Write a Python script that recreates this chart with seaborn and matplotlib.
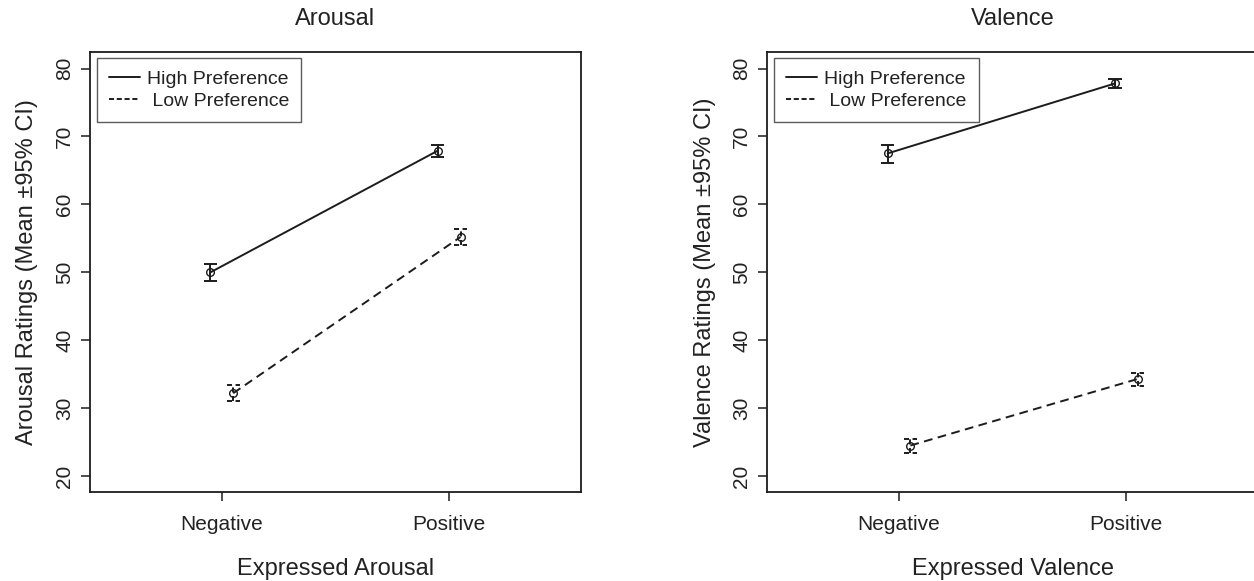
import matplotlib
matplotlib.use('Agg')
import matplotlib.pyplot as plt
from matplotlib.lines import Line2D
import numpy as np
import pandas as pd
import seaborn as sns

# values (mean and 95% CI bounds)
categories = ['Negative', 'Positive']
groups = ['High Preference', 'Low Preference']

arousal_high = [50.0, 67.9]
arousal_high_lo = [48.7, 67.0]
arousal_high_hi = [51.25, 68.8]
arousal_low = [32.2, 55.2]
arousal_low_lo = [31.0, 54.0]
arousal_low_hi = [33.4, 56.4]

valence_high = [67.5, 77.8]
valence_high_lo = [66.1, 77.2]
valence_high_hi = [68.8, 78.4]
valence_low = [24.5, 34.3]
valence_low_lo = [23.4, 33.3]
valence_low_hi = [25.45, 35.2]

yticks = [20, 30, 40, 50, 60, 70, 80]

sns.set_style('ticks')
plt.rcParams['font.family'] = ['Liberation Sans', 'DejaVu Sans']
ink = '#1c1c1c'
txt = '#222222'
dash = (0, (4.5, 2.8))
lw = 1.4
cap = 0.029


def make_df(high, low):
    return pd.DataFrame({'expr': categories * 2,
                         'pref': [groups[0]] * 2 + [groups[1]] * 2,
                         'rating': high + low})


def panel(ax, df, lows, highs, title, xlabel, ylabel):
    sns.pointplot(data=df, x='expr', y='rating', hue='pref', order=categories,
                  hue_order=groups, dodge=0.1, errorbar=None,
                  palette=[ink, ink], markers=['o', 'o'], linestyles=['-', dash],
                  linewidth=lw, markersize=5.5, markeredgewidth=1.0,
                  legend=False, ax=ax)
    styles = ['-', (0, (2.6, 1.8))]
    for line, lo, hi, ls in zip(ax.lines[:2], lows, highs, styles):
        line.set_markerfacecolor('none')
        line.set_zorder(3)
        x = np.asarray(line.get_xdata(), dtype=float)
        ax.vlines(x, lo, hi, colors=ink, linestyles=[ls], lw=lw)
        ax.hlines(lo, x - cap, x + cap, colors=ink, linestyles=[ls], lw=lw)
        ax.hlines(hi, x - cap, x + cap, colors=ink, linestyles=[ls], lw=lw)

    ax.set_xlim(-0.58, 1.58)
    ax.set_ylim(17.6, 82.4)
    ax.set_yticks(yticks)
    ax.set_title(title, fontsize=17, color=txt, pad=19.5)
    ax.set_xlabel(xlabel, fontsize=17, color=txt, labelpad=17)
    ax.set_ylabel(ylabel, fontsize=17, color=txt, labelpad=12)
    ax.tick_params(axis='both', direction='out', length=6.5, width=1.1,
                   color=ink, labelcolor=txt, labelsize=15)
    ax.tick_params(axis='x', pad=10)
    ax.tick_params(axis='y', pad=5, labelrotation=90)
    for lab in ax.get_yticklabels():
        lab.set_va('center')
    for sp in ax.spines.values():
        sp.set_visible(True)
        sp.set_linewidth(1.3)
        sp.set_color(ink)

    handles = [Line2D([], [], color=ink, lw=lw, ls='-'),
               Line2D([], [], color=ink, lw=lw, ls=(0, (2.6, 1.4)))]
    leg = ax.legend(handles, ['High Preference', ' Low Preference'],
                    loc='upper left', bbox_to_anchor=(0.0143, 0.986),
                    borderaxespad=0, fontsize=14, frameon=True, fancybox=False,
                    handlelength=1.6, handletextpad=0.35, borderpad=0.62,
                    labelspacing=0.22)
    leg.get_frame().set_edgecolor('#333333')
    leg.get_frame().set_linewidth(1.0)
    for t in leg.get_texts():
        t.set_color(txt)


fig = plt.figure(figsize=(12.54, 5.81), dpi=100)
ax1 = fig.add_axes([0.07177, 0.1525, 0.39155, 0.75766])
ax2 = fig.add_axes([0.61180, 0.1525, 0.39155, 0.75766])

panel(ax1, make_df(arousal_high, arousal_low),
      [arousal_high_lo, arousal_low_lo], [arousal_high_hi, arousal_low_hi],
      'Arousal', 'Expressed Arousal', 'Arousal Ratings (Mean \u00b195% CI)')
panel(ax2, make_df(valence_high, valence_low),
      [valence_high_lo, valence_low_lo], [valence_high_hi, valence_low_hi],
      'Valence', 'Expressed Valence', 'Valence Ratings (Mean \u00b195% CI)')
# the right panel's box runs past the figure edge in the reference
ax2.spines['right'].set_visible(False)

fig.savefig('out.png', dpi=100)
